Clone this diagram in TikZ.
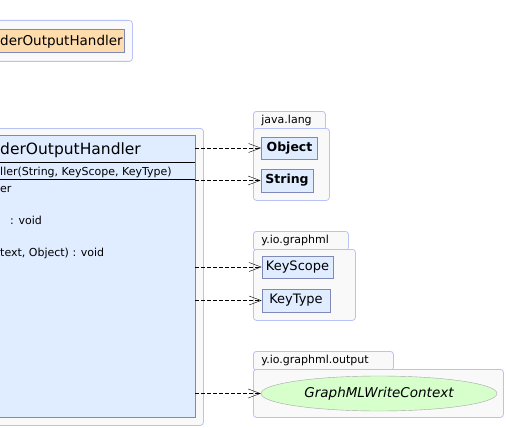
\documentclass[tikz,border=0pt]{standalone}
\usepackage{fontspec}
\setmainfont{DejaVu Sans}
\usepackage{xcolor}
\usepackage{tikz}
\usetikzlibrary{shapes.geometric, arrows.meta, positioning}

\definecolor{pkgborder}{HTML}{B8C2F6}
\definecolor{pkgfill}{HTML}{F9F9F9}
\definecolor{clsborder}{HTML}{8088B8}
\definecolor{clsfill}{HTML}{E0ECFF}
\definecolor{ownfill}{HTML}{FFDCAC}
\definecolor{ifcfill}{HTML}{D6FFCC}

\begin{document}
\begin{tikzpicture}[
        x=1pt, y=-1pt,
        pkg/.style={draw=pkgborder, fill=pkgfill, rounded corners=3pt, line width=0.8pt, anchor=north west, inner sep=0pt},
        pkgtab/.style={draw=pkgborder, fill=pkgfill, rounded corners=3pt, line width=0.8pt, anchor=north west, inner xsep=8pt, inner ysep=0pt, minimum height=19pt, align=left, font=\fontsize{11}{13}\selectfont},
        classbox/.style={draw=clsborder, fill=clsfill, line width=0.8pt, inner sep=0pt},
        typebox/.style={draw=clsborder, fill=clsfill, line width=0.8pt, inner sep=0pt, minimum height=22pt},
        ifc/.style={draw=gray!70, fill=ifcfill, ellipse, inner sep=0pt, font=\itshape\fontsize{13.5}{15}\selectfont},
        member/.style={anchor=base west, inner sep=0pt, font=\fontsize{11}{13}\selectfont},
        dep/.style={dashed, dash pattern=on 4pt off 2pt, -{Straight Barb[length=12pt, width=9pt]}}
    ]
        \useasboundingbox (0,0) rectangle (506,428);
        \clip (0,0) rectangle (506,428);

        % Own package
        \node (toppkg) [pkg, minimum width=152pt, minimum height=41pt] at (-20, 20) {};
        \node (ownbox) [draw=clsborder, fill=ownfill, line width=0.8pt, minimum width=144pt, minimum height=23pt, inner sep=0pt] at (52, 40.5) {};
        \node (ownname) [anchor=base west, inner sep=0pt, font=\fontsize{13.5}{15}\selectfont] at (0, 45.5) {derOutputHandler};

        % Main class
        \node (mainpkg) [pkg, minimum width=223pt, minimum height=297pt] at (-20, 128) {};
        \node (cls) [classbox, minimum width=215pt, minimum height=282pt] at (87.5, 276) {};
        \node (clsname) [anchor=base west, inner sep=0pt, font=\fontsize{15.5}{18}\selectfont] at (0, 154) {derOutputHandler};
        \draw (cls.west |- 0,162) -- (cls.east |- 0,162);
        \node (ctor) [member] at (0, 175) {ller(String, KeyScope, KeyType)};
        \draw (cls.west |- 0,179) -- (cls.east |- 0,179);
        \node (m1) [member] at (0, 192) {er};
        \node (m2) [member] at (10, 224) {: void};
        \node (m3) [member] at (0, 256) {text, Object) : void};

        % java.lang
        \node (langtab) [pkgtab, text width=56pt] at (253, 111) {java.lang};
        \node (langpkg) [pkg, minimum width=76pt, minimum height=72pt] at (253, 128) {};
        \node (obj) [typebox, minimum width=56pt, font=\bfseries\fontsize{12.5}{14}\selectfont] at (289.5, 148) {Object};
        \node (str) [typebox, minimum width=52pt, minimum height=23pt, font=\bfseries\fontsize{12.5}{14}\selectfont] at (287, 180.5) {String};

        % y.io.graphml
        \node (gmltab) [pkgtab, text width=79pt] at (253, 231) {y.io.graphml};
        \node (gmlpkg) [pkg, minimum width=102pt, minimum height=71pt] at (253, 249) {};
        \node (scope) [typebox, minimum width=71pt, font=\fontsize{13}{15}\selectfont] at (297.5, 267) {KeyScope};
        \node (ktype) [typebox, minimum width=68pt, minimum height=23pt, font=\fontsize{13}{15}\selectfont] at (296, 300.5) {KeyType};

        % y.io.graphml.output
        \node (outtab) [pkgtab, text width=124pt] at (253, 351) {y.io.graphml.output};
        \node (outpkg) [pkg, minimum width=250pt, minimum height=48pt] at (253, 369) {};
        \node (ctx) [ifc, minimum width=236pt, minimum height=35pt] at (379, 393.5) {GraphMLWriteContext};

        % Dependencies
        \draw [dep] (obj -| cls.east) -- (obj);
        \draw [dep] (str -| cls.east) -- (str);
        \draw [dep] (scope -| cls.east) -- (scope);
        \draw [dep] (ktype -| cls.east) -- (ktype);
        \draw [dep] (ctx -| cls.east) -- (ctx);
    \end{tikzpicture}
\end{document}
